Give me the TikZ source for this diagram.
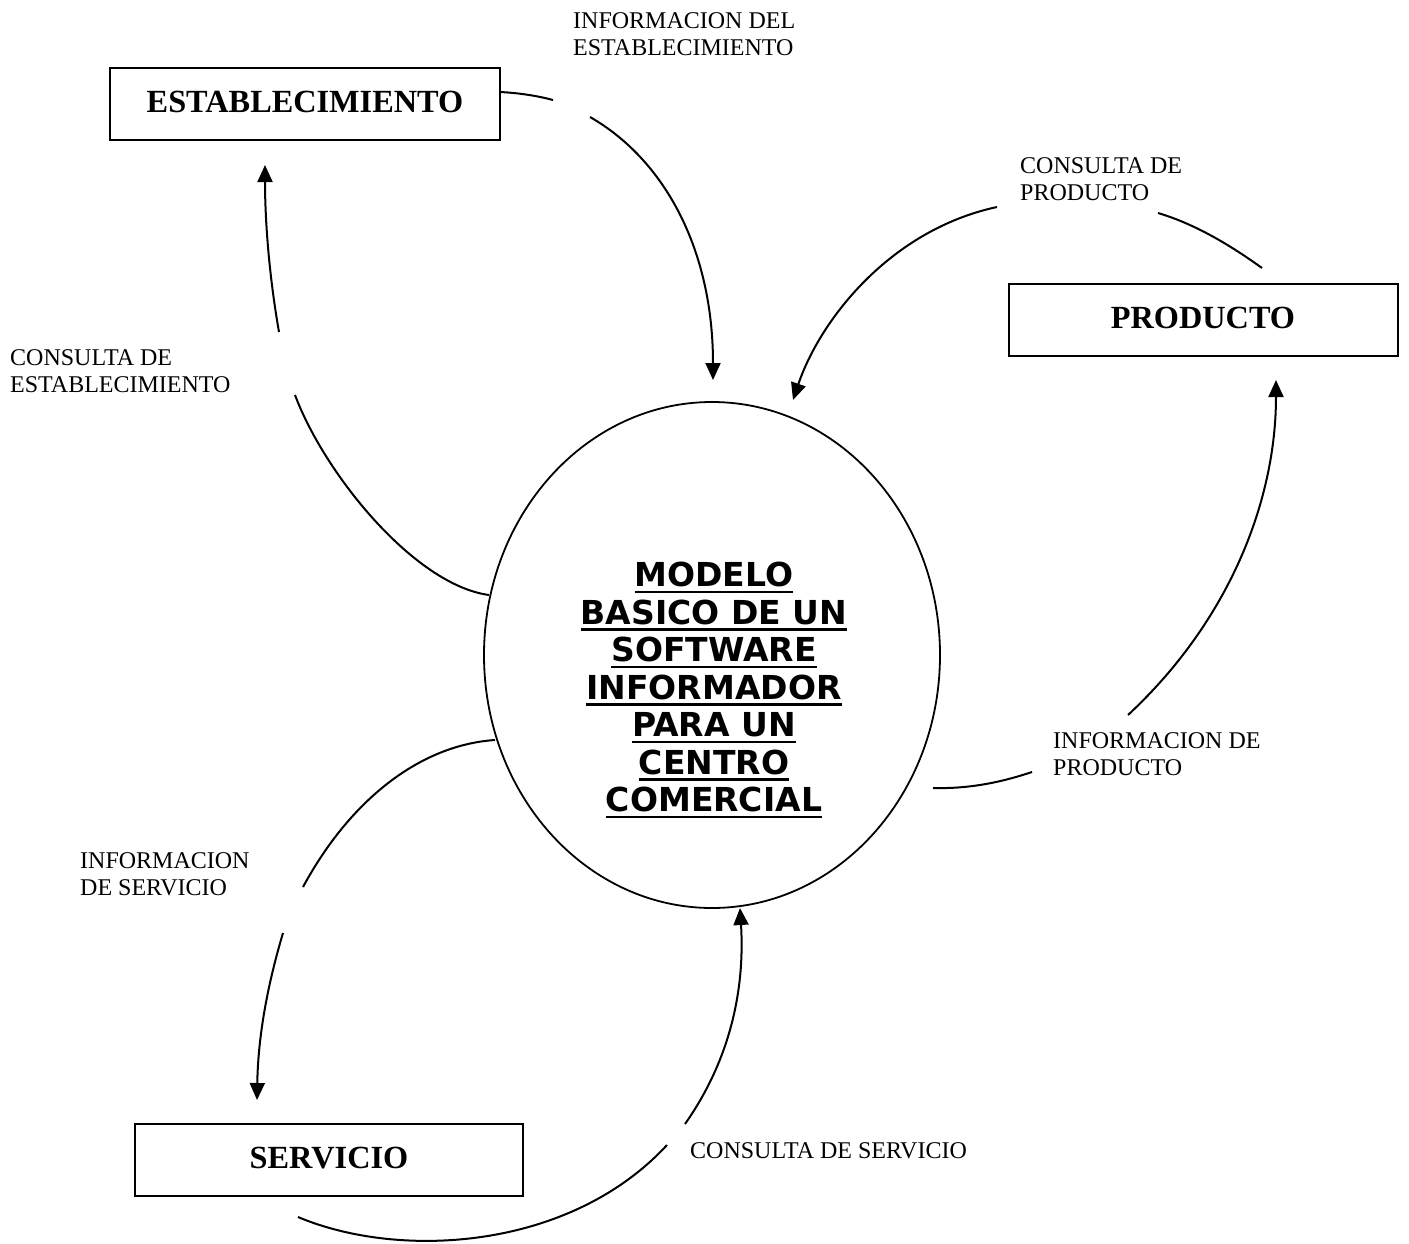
\documentclass[tikz,border=0pt]{standalone}
\usepackage{fontspec}
\setmainfont{Liberation Serif}
\newfontfamily\verdfont{DejaVu Sans}
\usetikzlibrary{shapes.geometric,arrows.meta}
\newcommand\ulline[1]{\setbox0\hbox{#1}\rlap{\rule[-6.5pt]{\wd0}{2.5pt}}\box0}
\begin{document}
\begin{tikzpicture}[x=1pt,y=-1pt,
  box/.style={draw, line width=2pt, minimum height=72pt, inner sep=0pt,
    font=\bfseries\fontsize{32.3}{38}\selectfont, text height=22pt, text depth=6pt},
  lbl/.style={anchor=base west, inner sep=0pt, font=\fontsize{24}{27.5}\selectfont},
  conn/.style={line width=2pt},
  arr/.style={conn, -{Triangle[length=17pt,width=15pt]}}]
\useasboundingbox (0,0) rectangle (1409,1243);

% entities
\node[box, minimum width=390pt] (est) at (305,104) {ESTABLECIMIENTO};
\node[box, minimum width=389pt] (prod) at (1203,320) {PRODUCTO};
\node[box, minimum width=388pt] (serv) at (329,1160) {SERVICIO};

% process
\node[draw, ellipse, line width=1.8pt, minimum width=456pt, minimum height=506pt, inner sep=0pt] (modelo) at (712,655) {};
\node[align=center, inner sep=0pt, font=\verdfont\bfseries\fontsize{33}{37.5}\selectfont] (mtxt) at (714,690)
  {\ulline{MODELO}\\ \ulline{BASICO DE UN}\\ \ulline{SOFTWARE}\\ \ulline{INFORMADOR}\\ \ulline{PARA UN}\\ \ulline{CENTRO}\\ \ulline{COMERCIAL}};

% labels
\node[lbl] (l1) at (573,28) {\begin{tabular}[t]{@{}l@{}}INFORMACION DEL\\ESTABLECIMIENTO\end{tabular}};
\node[lbl] (l2) at (1020,173) {\begin{tabular}[t]{@{}l@{}}CONSULTA DE\\PRODUCTO\end{tabular}};
\node[lbl] (l3) at (10,365) {\begin{tabular}[t]{@{}l@{}}CONSULTA DE\\ESTABLECIMIENTO\end{tabular}};
\node[lbl] (l4) at (1053,748) {\begin{tabular}[t]{@{}l@{}}INFORMACION DE\\PRODUCTO\end{tabular}};
\node[lbl] (l5) at (80,868) {\begin{tabular}[t]{@{}l@{}}INFORMACION\\DE SERVICIO\end{tabular}};
\node[lbl] (l6) at (690,1158) {CONSULTA DE SERVICIO};

% connector end points
\coordinate (a1) at (500,92);  \coordinate (a2) at (553,100);
\coordinate (a3) at (590,117); \coordinate (a4) at (713,380);
\coordinate (b1) at (1262,268); \coordinate (b2) at (1158,213);
\coordinate (b3) at (997,207);  \coordinate (b4) at (793,400);
\coordinate (c1) at (489,595); \coordinate (c2) at (295,395);
\coordinate (c3) at (279,332); \coordinate (c4) at (265,165);
\coordinate (d1) at (933,788);  \coordinate (d2) at (1032,772);
\coordinate (d3) at (1128,715); \coordinate (d4) at (1276,380);
\coordinate (e1) at (495,740); \coordinate (e2) at (303,887);
\coordinate (e3) at (283,933); \coordinate (e4) at (257,1100);
\coordinate (f1) at (298,1217); \coordinate (f2) at (667,1145);
\coordinate (f3) at (685,1124); \coordinate (f4) at (740,908);

% INFORMACION DEL ESTABLECIMIENTO
\draw[conn] (a1) .. controls (520,93) and (538,96) .. (a2);
\draw[arr] (a3) .. controls (665,160) and (713,250) .. (a4);
% CONSULTA DE PRODUCTO
\draw[conn] (b1) .. controls (1230,245) and (1195,224) .. (b2);
\draw[arr] (b3) .. controls (890,230) and (820,320) .. (b4);
% CONSULTA DE ESTABLECIMIENTO
\draw[conn] (c1) .. controls (415,585) and (325,475) .. (c2);
\draw[arr] (c3) .. controls (269,275) and (265,220) .. (c4);
% INFORMACION DE PRODUCTO
\draw[conn] (d1) .. controls (970,789) and (1002,782) .. (d2);
\draw[arr] (d3) .. controls (1230,620) and (1276,500) .. (d4);
% INFORMACION DE SERVICIO
\draw[conn] (e1) .. controls (420,745) and (350,800) .. (e2);
\draw[arr] (e3) .. controls (266,990) and (258,1040) .. (e4);
% CONSULTA DE SERVICIO
\draw[conn] (f1) .. controls (400,1260) and (570,1250) .. (f2);
\draw[arr] (f3) .. controls (730,1060) and (745,990) .. (f4);
\end{tikzpicture}
\end{document}
